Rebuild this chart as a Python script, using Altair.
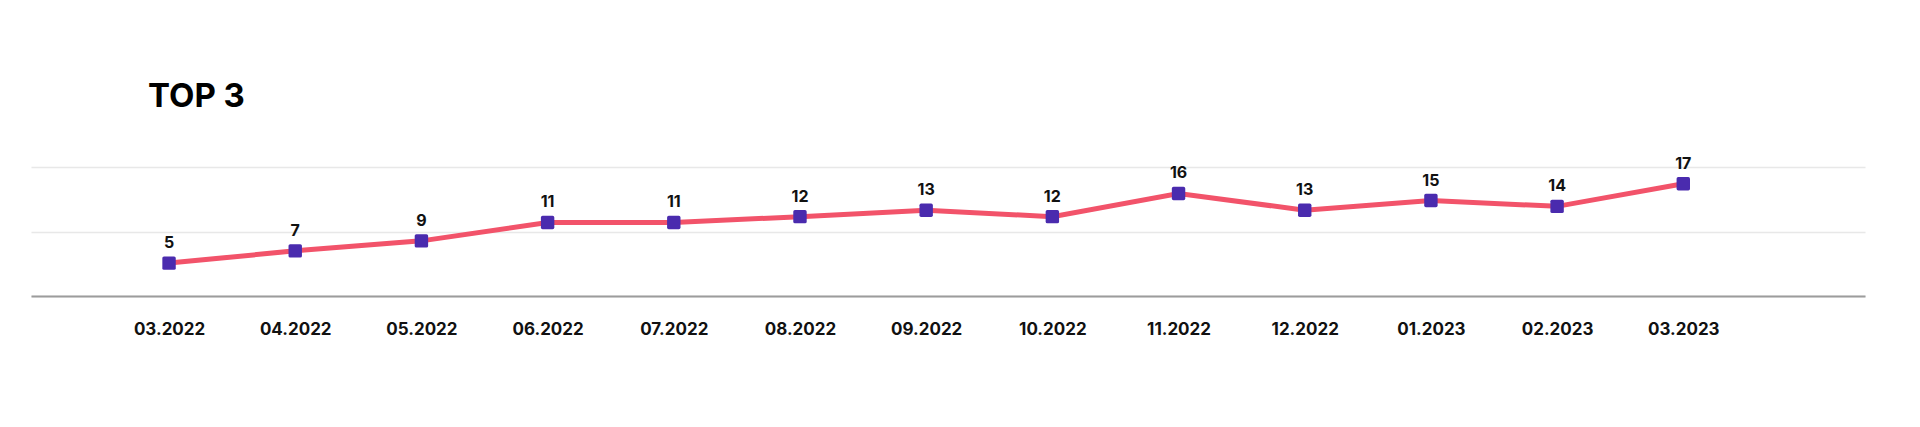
import json
import altair as alt
import pandas as pd

# ---- data ----
months = ["03.2022", "04.2022", "05.2022", "06.2022", "07.2022", "08.2022", "09.2022",
          "10.2022", "11.2022", "12.2022", "01.2023", "02.2023", "03.2023"]
values = [5.1, 7.0, 8.55, 11.4, 11.4, 12.3, 13.3, 12.3, 15.9, 13.3, 14.8, 13.9, 17.4]
labels = ["5", "7", "9", "11", "11", "12", "13", "12", "16", "13", "15", "14", "17"]
title_text = "TOP 3"

df = pd.DataFrame({"idx": list(range(len(months))), "month": months,
                   "value": values, "label": labels})

FONT = "Inter"
LINE_COLOR = "#F2536A"
POINT_COLOR = "#4A2BAE"

label_expr = json.dumps(months) + "[datum.value]"

x = alt.X("idx:Q",
          scale=alt.Scale(domain=[-1.094, 13.44], nice=False, zero=False),
          axis=alt.Axis(values=list(range(len(months))), labelExpr=label_expr,
                        title=None, grid=False, ticks=False, tickSize=0,
                        domainColor="#9c9c9c", domainWidth=2,
                        labelFont=FONT, labelFontWeight="bold", labelFontSize=17,
                        labelColor="#111111", labelPadding=25))
y = alt.Y("value:Q",
          scale=alt.Scale(domain=[0, 20], nice=False),
          axis=alt.Axis(values=[0, 10, 20], title=None, labels=False, ticks=False,
                        domain=False, grid=True, gridColor="#e8e8e8", gridWidth=1.5))

base = alt.Chart(df).encode(x=x, y=y)

line = base.mark_line(color=LINE_COLOR, strokeWidth=5)
rounded_square = ("M -0.75 -1 L 0.75 -1 Q 1 -1 1 -0.75 L 1 0.75 Q 1 1 0.75 1 "
                  "L -0.75 1 Q -1 1 -1 0.75 L -1 -0.75 Q -1 -1 -0.75 -1 Z")
points = base.mark_point(shape=rounded_square, filled=True, opacity=1,
                         color=POINT_COLOR, size=180)
texts = base.mark_text(font=FONT, fontWeight="bold", fontSize=16, color="#111111",
                       baseline="alphabetic", dy=-15).encode(text="label:N")

chart = alt.layer(line, points, texts).properties(
    width=1834, height=129,
    background="white",
    title=alt.TitleParams(title_text, anchor="start", frame="group", dx=117,
                          offset=9, font=FONT, fontSize=33, fontWeight="bold",
                          color="#000000", baseline="bottom"),
    autosize=alt.AutoSizeParams(type="none"),
    padding={"left": 31, "top": 167, "right": 55, "bottom": 131},
).configure_view(stroke=None)

chart.save("out.html", embed_options={"renderer": "svg", "actions": False})
